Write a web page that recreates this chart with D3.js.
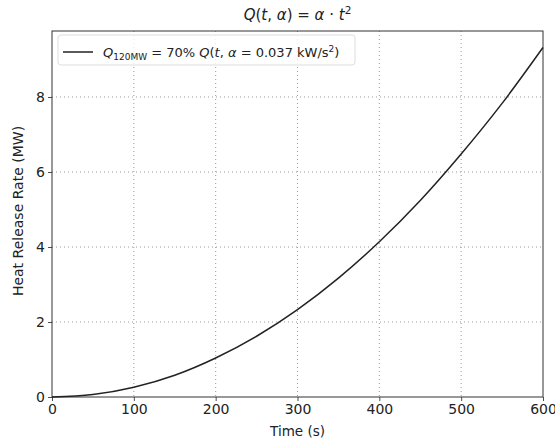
<!DOCTYPE html>
<html>
<head>
<meta charset="utf-8">
<script src="https://cdn.jsdelivr.net/npm/d3@7"></script>
<style>
  body { margin: 0; background: #fff; }
  text { font-family: "DejaVu Sans", sans-serif; fill: #222; }
</style>
</head>
<body>
<div id="chart"></div>
<script>
// values
var times = [0, 50, 100, 150, 200, 250, 300, 350, 400, 450, 500, 550, 600];
var hrr = [0, 0.065, 0.26, 0.58, 1.04, 1.62, 2.33, 3.17, 4.14, 5.24, 6.48, 7.83, 9.32];
var xTicks = [0, 100, 200, 300, 400, 500, 600];
var yTicks = [0, 2, 4, 6, 8];

var width = 555, height = 441;
var margin = { top: 31, right: 12, bottom: 44, left: 52 };
var w = width - margin.left - margin.right;
var h = height - margin.top - margin.bottom;

var svg = d3.select("#chart").append("svg")
  .attr("width", width)
  .attr("height", height);

var g = svg.append("g")
  .attr("transform", "translate(" + margin.left + "," + margin.top + ")");

var x = d3.scaleLinear().domain([0, 600]).range([0, w]);
var y = d3.scaleLinear().domain([0, 9.76]).range([h, 0]);

// grid
g.append("g").selectAll("line")
  .data(xTicks.slice(1, -1)).enter().append("line")
  .attr("x1", d => x(d)).attr("x2", d => x(d))
  .attr("y1", 0).attr("y2", h)
  .attr("stroke", "#999").attr("stroke-width", 1)
  .attr("stroke-dasharray", "1,3");
g.append("g").selectAll("line")
  .data(yTicks.slice(1)).enter().append("line")
  .attr("x1", 0).attr("x2", w)
  .attr("y1", d => y(d)).attr("y2", d => y(d))
  .attr("stroke", "#999").attr("stroke-width", 1)
  .attr("stroke-dasharray", "1,3");

// axes
var xAxis = g.append("g")
  .attr("transform", "translate(0," + h + ")")
  .call(d3.axisBottom(x).tickValues(xTicks).tickSize(4).tickPadding(3));
var yAxis = g.append("g")
  .call(d3.axisLeft(y).tickValues(yTicks).tickSize(4).tickPadding(3));
[xAxis, yAxis].forEach(function (a) {
  a.select(".domain").remove();
  a.selectAll("line").attr("stroke", "#222").attr("stroke-width", 0.8);
  a.selectAll("text").style("font-size", "14px").style("font-family", "DejaVu Sans").attr("fill", "#222");
});

// frame
g.append("rect")
  .attr("width", w).attr("height", h)
  .attr("fill", "none").attr("stroke", "#333").attr("stroke-width", 1);

// curve
var line = d3.line()
  .x((d, i) => x(times[i]))
  .y(d => y(d))
  .curve(d3.curveMonotoneX);
g.append("path")
  .datum(hrr)
  .attr("d", line)
  .attr("fill", "none")
  .attr("stroke", "#222")
  .attr("stroke-width", 1.5);

// legend
var lg = g.append("g").attr("transform", "translate(6,4)");
lg.append("rect")
  .attr("width", 297).attr("height", 30).attr("rx", 3)
  .attr("fill", "#fff").attr("fill-opacity", 0.8)
  .attr("stroke", "#ddd");
lg.append("line")
  .attr("x1", 5).attr("x2", 35).attr("y1", 17).attr("y2", 17)
  .attr("stroke", "#222").attr("stroke-width", 1.5);
var lt = lg.append("text").attr("x", 45).attr("y", 22).style("font-size", "13px");
lt.append("tspan").attr("font-style", "italic").text("Q");
lt.append("tspan").attr("dy", 3).style("font-size", "9px").text("120MW");
lt.append("tspan").attr("dy", -3).text(" = 70% ");
lt.append("tspan").attr("font-style", "italic").text("Q");
lt.append("tspan").text("(");
lt.append("tspan").attr("font-style", "italic").text("t");
lt.append("tspan").text(", ");
lt.append("tspan").attr("font-style", "italic").text("α");
lt.append("tspan").text(" = 0.037 kW/s");
lt.append("tspan").attr("dy", -5).style("font-size", "9px").text("2");
lt.append("tspan").attr("dy", 5).text(")");

// title
var tt = svg.append("text")
  .attr("x", margin.left + w / 2).attr("y", 20)
  .attr("text-anchor", "middle").style("font-size", "15px");
tt.append("tspan").attr("font-style", "italic").text("Q");
tt.append("tspan").text("(");
tt.append("tspan").attr("font-style", "italic").text("t");
tt.append("tspan").text(", ");
tt.append("tspan").attr("font-style", "italic").text("α");
tt.append("tspan").text(") = ");
tt.append("tspan").attr("font-style", "italic").text("α");
tt.append("tspan").text(" · ");
tt.append("tspan").attr("font-style", "italic").text("t");
tt.append("tspan").attr("dy", -6).style("font-size", "10.5px").text("2");

// axis labels
svg.append("text")
  .attr("x", margin.left + w / 2).attr("y", height - 5)
  .attr("text-anchor", "middle").style("font-size", "13.5px")
  .text("Time (s)");
svg.append("text")
  .attr("transform", "translate(23," + (margin.top + h / 2 - 3) + ") rotate(-90)")
  .attr("text-anchor", "middle").style("font-size", "14px")
  .text("Heat Release Rate (MW)");
</script>
</body>
</html>
